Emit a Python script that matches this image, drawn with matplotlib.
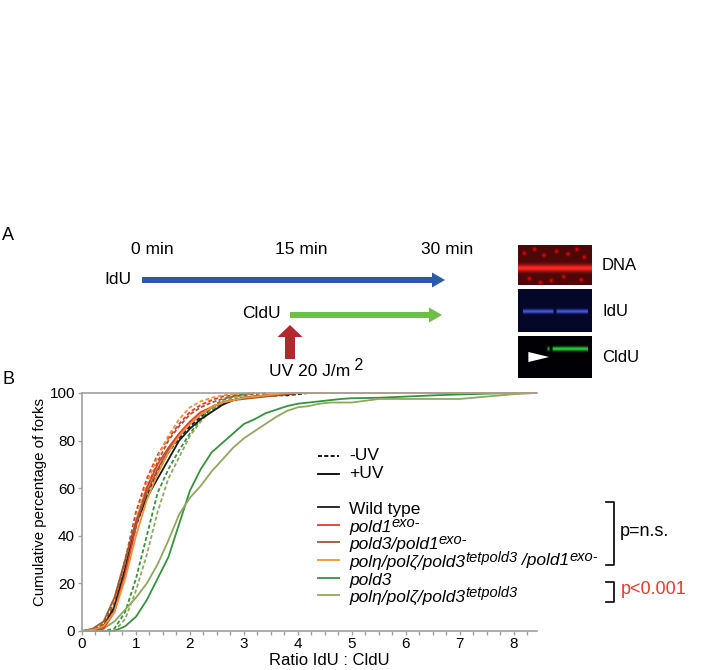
import numpy as np
import matplotlib
matplotlib.use('Agg')
import matplotlib.pyplot as plt
from matplotlib.patches import FancyArrow, Polygon
from matplotlib.ticker import MultipleLocator

plt.rcParams['font.family'] = ['Liberation Sans', 'DejaVu Sans']

# ratio IdU : CldU where the cumulative curves were read
ratio = [0, 0.2, 0.4, 0.6, 0.8, 1.0, 1.2, 1.4, 1.6, 1.8, 2.0, 2.2, 2.4, 2.6, 2.8,
         3.0, 3.2, 3.4, 3.6, 3.8, 4.0, 4.2, 4.4, 4.6, 4.8, 5.0, 5.5, 6.0, 6.5,
         7.0, 7.5, 8.0, 8.4]

# cumulative percentage of forks (each list stops where the curve stops)
wt_minus = [0, 0, 1.5, 9, 25, 44, 57, 67, 75, 81, 86, 90, 93, 95.5, 97, 98, 98.5, 99, 99, 99, 99.5, 100, 100]
wt_plus = [0, 0.5, 2, 10, 26, 45, 56, 64, 72, 80, 85, 89, 92, 95, 97, 98, 98.5, 99, 99, 99.5, 100]
pold1_minus = [0, 0, 2, 11, 30, 50, 64, 74, 81, 87, 92, 95, 97, 98.5, 99, 99.5, 100]
pold1_plus = [0, 0, 1, 8, 24, 44, 60, 70, 77, 83, 88, 92, 94, 96, 97, 98, 98.5, 99, 99, 99.5, 100]
p3p1_minus = [0, 0.5, 3, 12, 28, 46, 60, 71, 80, 86, 91, 94, 96, 97.5, 98.5, 99, 99.5, 100]
p3p1_plus = [0, 1, 4, 14, 30, 46, 58, 68, 76, 82, 87, 91, 94, 96, 97, 97.5, 98, 98.5, 99, 99.5, 100]
tetp1_minus = [0, 0, 2, 10, 27, 47, 62, 73, 82, 89, 94, 96.5, 98, 99, 99.5, 100]
tetp1_plus = [0, 0.5, 2, 8, 22, 40, 55, 66, 75, 82, 87, 91, 94, 96, 97, 98, 98.5, 99, 99.5,
              100, 100, 100, 100, 100, 100, 100, 100, 100, 100, 100, 100, 100, 100]
pold3_minus = [0, 0, 0, 1, 8, 22, 40, 58, 68, 76, 83, 89, 94, 97, 98.5, 99.5, 100]
pold3_plus = [0, 0, 0, 0, 2, 6, 13, 22, 31, 45, 59, 68, 75, 79, 83, 87, 89, 91.5, 93, 94.5,
              95.5, 96, 96.5, 97, 97.5, 97.8, 98, 98.5, 99, 99.4, 99.7, 100, 100]
tet_minus = [0, 0, 0, 0, 5, 17, 32, 50, 64, 73, 82, 88, 93, 96, 98, 99, 100]
tet_plus = [0, 0, 1, 4, 9, 14, 20, 28, 38, 49, 56, 61, 67, 72, 77, 81, 84, 87, 90, 92.5,
            94, 94.5, 95.5, 96, 96, 96, 97.5, 97.5, 97.5, 97.5, 98.5, 99.5, 100]

c_black = '#1a1a1a'
c_red = '#e8392b'
c_brown = '#9b5b2e'
c_orange = '#f39233'
c_green = '#35923f'
c_olive = '#8fa85c'

curves = [
    (wt_minus, c_black, '--'), (pold1_minus, c_red, '--'), (p3p1_minus, c_brown, '--'),
    (tetp1_minus, c_orange, '--'), (pold3_minus, c_green, '--'), (tet_minus, c_olive, '--'),
    (pold3_plus, c_green, '-'), (tet_plus, c_olive, '-'),
    (wt_plus, c_black, '-'), (pold1_plus, c_red, '-'), (p3p1_plus, c_brown, '-'),
    (tetp1_plus, c_orange, '-'),
]

fig = plt.figure(figsize=(7.24, 6.70), dpi=100)
W, H = 724, 670

# panel B: cumulative curves
ax = fig.add_axes([82 / W, 1 - 631 / H, 455 / W, 238 / H])
for vals, col, ls in curves:
    line, = ax.plot(ratio[:len(vals)], vals, color=col, lw=1.3, ls=ls, clip_on=False)
    if ls == '--':
        line.set_dashes([2.2, 1.3])
ax.set_xlim(0, 8.43)
ax.set_ylim(0, 100)
ax.set_xticks(range(0, 9))
ax.xaxis.set_minor_locator(MultipleLocator(0.25))
ax.set_yticks(range(0, 101, 20))
ax.spines['right'].set_visible(False)
for s in ['left', 'bottom', 'top']:
    ax.spines[s].set_color('#a0a0a0')
    ax.spines[s].set_linewidth(1.2)
ax.tick_params(axis='both', which='both', colors='#a0a0a0', labelcolor='black',
               labelsize=11, length=3, width=1)
ax.tick_params(axis='y', pad=2)
ax.tick_params(axis='x', pad=1.5)
ax.set_xlabel('Ratio IdU : CldU', fontsize=12)
ax.xaxis.set_label_coords(0.544, -0.094)
ax.set_ylabel('Cumulative percentage of forks', fontsize=10.8)
ax.yaxis.set_label_coords(-0.077, 0.54)

# overlay in pixel coordinates for panel A, legend and brackets
ov = fig.add_axes([0, 0, 1, 1], facecolor='none')
ov.set_xlim(0, W)
ov.set_ylim(H, 0)
ov.axis('off')

ov.text(8, 236, 'A', fontsize=13, ha='center', va='center')
ov.text(8, 379, 'B', fontsize=13, ha='center', va='center')

for xc, lab in [(152, '0 min'), (301, '15 min'), (447, '30 min')]:
    ov.text(xc, 249, lab, fontsize=12.5, ha='center', va='center')
ov.text(131, 280, 'IdU', fontsize=12.5, ha='right', va='center')
ov.text(281, 314, 'CldU', fontsize=12.5, ha='right', va='center')

ov.add_patch(FancyArrow(142, 280, 303, 0, width=6, head_width=15, head_length=13,
                        length_includes_head=True, color='#2c5aa8', lw=0))
ov.add_patch(FancyArrow(290, 315, 152, 0, width=6, head_width=15, head_length=13,
                        length_includes_head=True, color='#6dbf45', lw=0))
ov.add_patch(FancyArrow(290, 359, 0, -34, width=10, head_width=25, head_length=12,
                        length_includes_head=True, color='#b3282f', lw=0))

uv = ov.text(269, 372, 'UV 20 J/m', fontsize=12.5, ha='left', va='center')
ov.annotate(' 2', xy=(1, 0), xycoords=uv, xytext=(0, 4.5), textcoords='offset points',
            fontsize=11.5, ha='left', va='bottom')


def rich(x, y, parts, size=12.5):
    # parts: (string, raise in points, italic)
    txt, dy, it = parts[0]
    prev = ov.text(x, y, txt, fontsize=size, style='italic' if it else 'normal',
                   ha='left', va='bottom')
    prev_dy = dy
    for txt, dy, it in parts[1:]:
        fs = size - 2 if dy > 2 else size
        prev = ov.annotate(txt, xy=(1, 0), xycoords=prev, xytext=(0, dy - prev_dy),
                           textcoords='offset points', fontsize=fs,
                           style='italic' if it else 'normal', ha='left', va='bottom')
        prev_dy = dy


leg_dash = ov.plot([318, 339], [456, 456], color='black', lw=1.3)[0]
leg_dash.set_dashes([2.2, 1.3])
ov.plot([318, 339], [474, 474], color='black', lw=1.3)
ov.text(349, 456, '-UV', fontsize=12.5, va='center')
ov.text(349, 474, '+UV', fontsize=12.5, va='center')

geno = [
    (507, c_black, [('Wild type', 0, False)]),
    (525, c_red, [('pold1', 0, True), ('exo-', 3.5, True)]),
    (542, c_brown, [('pold3/pold1', 0, True), ('exo-', 3.5, True)]),
    (560, c_orange, [('pol\u03b7/pol\u03b6/pold3', 0, True), ('tetpold3', 3.5, True),
                     (' /pold1', 1.5, True), ('exo-', 4, True)]),
    (578, c_green, [('pold3', 0, True)]),
    (595, c_olive, [('pol\u03b7/pol\u03b6/pold3', 0, True), ('tetpold3', 3.5, True)]),
]
for yc, col, parts in geno:
    ov.plot([318, 339], [yc, yc], color=col, lw=1.3)
    rich(349, yc + 10, parts)

# significance brackets
ov.plot([606, 614, 614, 606], [502, 502, 565, 565], color='black', lw=1.2)
ov.plot([606, 614, 614, 606], [582, 582, 602, 602], color='black', lw=1.2)
ov.text(620, 531, 'p=n.s.', fontsize=13, va='center')
ov.text(621, 590, 'p<0.001', fontsize=13, va='center', color=c_red)

# fluorescence micrographs
img_w, img_h = 75, 40
xx = np.linspace(0, 1, img_w)[None, :]
yy = np.linspace(0, 1, img_h)[:, None]

dna = np.zeros((img_h, img_w, 3))
dna[..., 0] = 0.30
dna[..., 1] = 0.03
dna[..., 2] = 0.03
streak = np.exp(-((yy - 0.58) / 0.09) ** 2) * np.ones_like(xx)
dna[..., 0] += 0.70 * streak
dna[..., 1] += 0.12 * streak
dna[..., 2] += 0.10 * streak
dots_x = [0.08, 0.22, 0.35, 0.52, 0.68, 0.8, 0.9, 0.15, 0.45, 0.62, 0.86, 0.3]
dots_y = [0.2, 0.1, 0.25, 0.15, 0.22, 0.1, 0.3, 0.85, 0.9, 0.8, 0.88, 0.95]
for dx, dy in zip(dots_x, dots_y):
    spot = np.exp(-(((xx - dx) / 0.025) ** 2 + ((yy - dy) / 0.05) ** 2))
    dna[..., 0] += 0.6 * spot
dna = np.clip(dna, 0, 1)

idu = np.zeros((img_h, img_w, 3))
idu[..., 0] = 0.02
idu[..., 1] = 0.03
idu[..., 2] = 0.16
blue_line = np.exp(-((yy - 0.52) / 0.045) ** 2) * (np.abs(xx - 0.5) > 0.015) * \
    ((xx > 0.06) & (xx < 0.95))
idu[..., 0] += 0.25 * blue_line
idu[..., 1] += 0.32 * blue_line
idu[..., 2] += 0.75 * blue_line
idu = np.clip(idu, 0, 1)

cld = np.zeros((img_h, img_w, 3))
cld[..., 2] = 0.02
green_line = np.exp(-((yy - 0.3) / 0.05) ** 2) * ((xx > 0.47) & (xx < 0.95))
green_line = green_line + np.exp(-(((xx - 0.41) / 0.015) ** 2 + ((yy - 0.3) / 0.05) ** 2))
cld[..., 0] += 0.15 * green_line
cld[..., 1] += 0.85 * green_line
cld[..., 2] += 0.2 * green_line
cld = np.clip(cld, 0, 1)

panels = [(245, 285, dna, 'DNA', 265), (289, 332, idu, 'IdU', 312), (336, 378, cld, 'CldU', 357)]
for top, bot, img, lab, ly in panels:
    iax = fig.add_axes([518 / W, 1 - bot / H, 74 / W, (bot - top) / H])
    iax.imshow(img, aspect='auto', extent=(0, 1, 0, 1), interpolation='bilinear')
    iax.set_xticks([])
    iax.set_yticks([])
    for s in iax.spines.values():
        s.set_visible(False)
    if lab == 'CldU':
        iax.add_patch(Polygon([(0.14, 0.62), (0.14, 0.38), (0.42, 0.5)], closed=True,
                              color='white', lw=0))
        iax.set_xlim(0, 1)
        iax.set_ylim(0, 1)
    ov.text(602, ly, lab, fontsize=12, va='center')

fig.savefig('out.png', dpi=100)
